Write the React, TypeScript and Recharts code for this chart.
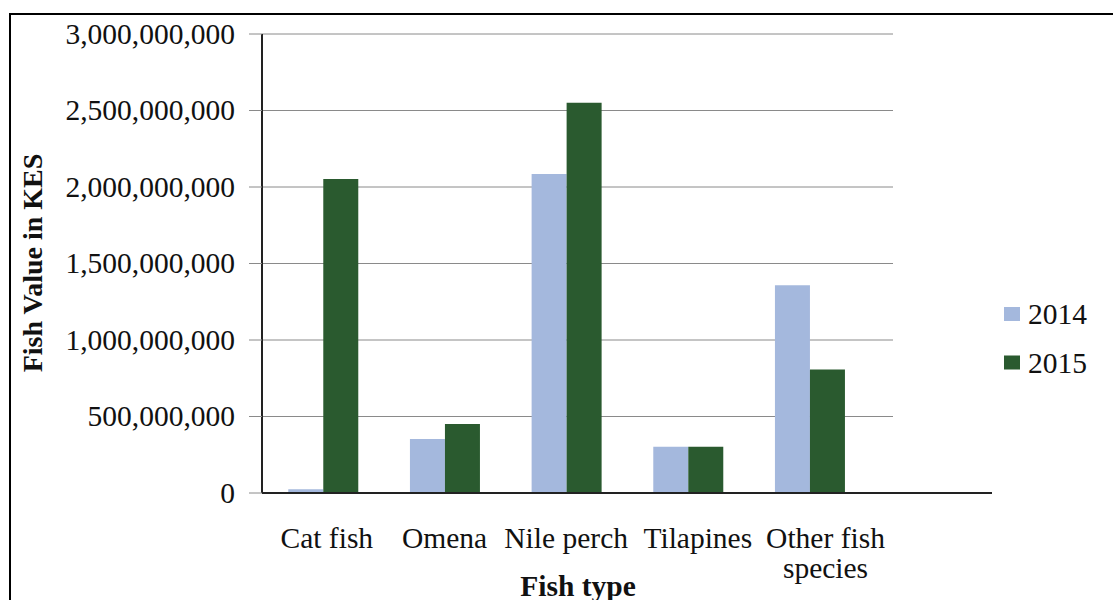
import React from "react";
import { BarChart, Bar, XAxis, YAxis, CartesianGrid, Legend } from "recharts";

const categories = ["Cat fish", "Omena", "Nile perch", "Tilapines", "Other fish\nspecies", ""];
const values2014 = [25000000, 353000000, 2085000000, 303000000, 1358000000, null];
const values2015 = [2052000000, 451000000, 2551000000, 303000000, 808000000, null];
const seriesNames = ["2014", "2015"];
const seriesColors = ["#a4b8dd", "#2a5a2f"];
const yTicks = [0, 500000000, 1000000000, 1500000000, 2000000000, 2500000000, 3000000000];
const xTitle = "Fish type";
const yTitle = "Fish Value in KES";

const data = categories.map((c, i) => ({
  category: c,
  v2014: values2014[i],
  v2015: values2015[i],
}));

const FONT = "Liberation Serif, Times New Roman, serif";
const LABEL_NUDGE = [4, 0, 0, 10, 16, 0];

const XTick = (props: any) => {
  const { x, y, payload, index } = props;
  if (!payload.value) return null;
  const lines = String(payload.value).split("\n");
  const cx = x + (LABEL_NUDGE[index] || 0);
  return (
    <text x={cx} y={y + 55} textAnchor="middle" fontFamily={FONT} fontSize={29.5} fill="#111">
      {lines.map((l: string, i: number) => (
        <tspan key={i} x={cx} dy={i === 0 ? 0 : 30}>
          {l}
        </tspan>
      ))}
    </text>
  );
};

const YTick = (props: any) => {
  const { x, y, payload } = props;
  return (
    <text x={x} y={y} dy={9.5} textAnchor="end" fontFamily={FONT} fontSize={29.5} fill="#111">
      {Number(payload.value).toLocaleString("en-US")}
    </text>
  );
};

const LegendContent = () => (
  <svg width={220} height={462} style={{ position: "absolute", left: 0, top: 0 }}>
    {seriesNames.map((n, i) => {
      const cy = 289 + i * 48.5;
      return (
        <g key={n}>
          <rect x={111} y={cy - 7} width={16} height={14} fill={seriesColors[i]} />
          <text x={135} y={cy + 10} fontFamily={FONT} fontSize={29.5} fill="#111">
            {n}
          </text>
        </g>
      );
    })}
  </svg>
);

export default function App() {
  return (
    <div style={{ position: "absolute", left: 0, top: 0, width: 1113, height: 600, background: "#fff", overflow: "hidden" }}>
      <BarChart
        width={1113}
        height={600}
        data={data}
        margin={{ top: 34, right: 121, bottom: 0, left: 0 }}
        barCategoryGap="21.6%"
        barGap={0}
      >
        <CartesianGrid vertical={false} stroke="#8a8a8a" strokeWidth={1} />
        <XAxis
          dataKey="category"
          interval={0}
          height={107}
          tickSize={0}
          tickMargin={0}
          tickLine={false}
          axisLine={{ stroke: "#222", strokeWidth: 2 }}
          tick={<XTick />}
          label={() => (
            <text x={578} y={596} textAnchor="middle" fontFamily={FONT} fontSize={29.5} fontWeight="bold" fill="#111">
              {xTitle}
            </text>
          )}
        />
        <YAxis
          width={262}
          domain={[0, 3000000000]}
          ticks={yTicks}
          interval={0}
          tickSize={13}
          tickMargin={14}
          tickLine={{ stroke: "#8a8a8a" }}
          axisLine={{ stroke: "#222", strokeWidth: 2 }}
          tick={<YTick />}
          label={() => (
            <text x={42} y={263} transform="rotate(-90 42 263)" textAnchor="middle" fontFamily={FONT} fontSize={28} fontWeight="bold" fill="#111">
              {yTitle}
            </text>
          )}
        />
        <Legend
          layout="vertical"
          align="center"
          verticalAlign="middle"
          wrapperStyle={{ left: 893, top: 25, width: 220, height: 462, background: "#fff", zIndex: 5 }}
          content={<LegendContent />}
        />
        <Bar dataKey="v2014" name={seriesNames[0]} fill={seriesColors[0]} isAnimationActive={false} />
        <Bar dataKey="v2015" name={seriesNames[1]} fill={seriesColors[1]} isAnimationActive={false} />
      </BarChart>
      <div
        style={{
          position: "absolute",
          left: 9,
          top: 13,
          width: 1200,
          height: 700,
          borderTop: "2px solid #000",
          borderLeft: "2px solid #000",
          pointerEvents: "none",
          zIndex: 10,
        }}
      />
    </div>
  );
}
